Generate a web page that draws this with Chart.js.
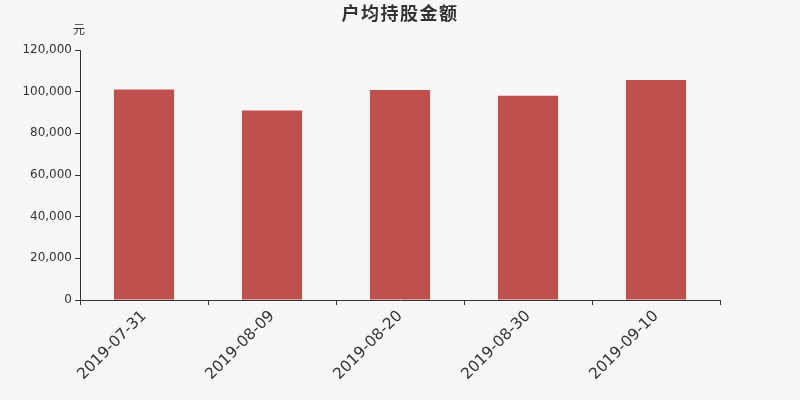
<!DOCTYPE html>
<html>
<head>
<meta charset="utf-8">
<script src="https://cdn.jsdelivr.net/npm/chart.js@4"></script>
<style>
  body { margin: 0; background: #f7f7f7; }
  #wrap { width: 800px; height: 400px; }
</style>
</head>
<body>
<div id="wrap"><canvas id="avgHoldingChart" width="800" height="400"></canvas></div>
<script>
const dates = ['2019-07-31', '2019-08-09', '2019-08-20', '2019-08-30', '2019-09-10'];
const amounts = [101100, 91000, 100800, 98000, 105600];
const yTicks = [0, 20000, 40000, 60000, 80000, 100000, 120000];

const titleText = '户均持股金额';
const unitText = '元';

document.addEventListener('DOMContentLoaded', function () {
  const ctx = document.getElementById('avgHoldingChart').getContext('2d');

  // title and unit label drawn by hand so the plot area stays where it is
  const headerPlugin = {
    id: 'header',
    afterDraw(chart) {
      const c = chart.ctx;
      c.save();
      c.fillStyle = '#333';
      c.textAlign = 'center';
      c.textBaseline = 'middle';
      c.font = 'bold 18px "Noto Sans CJK SC", sans-serif';
      c.letterSpacing = '1.5px';
      c.fillText(titleText, 400, 13);
      c.letterSpacing = '0px';
      c.font = '12px "Noto Sans CJK SC", sans-serif';
      c.fillText(unitText, 79, 29);
      c.restore();
    }
  };

  new Chart(ctx, {
    type: 'bar',
    data: {
      labels: dates,
      datasets: [{
        data: amounts,
        backgroundColor: '#c0504d',
        borderWidth: 0,
        barPercentage: 0.47,
        categoryPercentage: 1
      }]
    },
    options: {
      responsive: false,
      animation: false,
      devicePixelRatio: 1,
      layout: { padding: { top: 50, right: 80, left: 0, bottom: 0 } },
      plugins: {
        legend: { display: false },
        title: { display: false },
        tooltip: { enabled: false }
      },
      scales: {
        x: {
          afterFit(scale) { scale.height = 100; },
          grid: {
            offset: true,
            drawOnChartArea: false,
            drawTicks: true,
            tickLength: 5,
            color: '#333'
          },
          border: { display: true, color: '#333', width: 1 },
          ticks: {
            autoSkip: false,
            maxRotation: 45,
            minRotation: 45,
            padding: 2,
            color: '#333',
            font: { family: 'DejaVu Sans', size: 15.5 }
          }
        },
        y: {
          min: 0,
          max: 120000,
          afterFit(scale) { scale.width = 80; },
          afterBuildTicks(scale) { scale.ticks = yTicks.map(v => ({ value: v })); },
          grid: {
            drawOnChartArea: false,
            drawTicks: true,
            tickLength: 5,
            color: '#333'
          },
          border: { display: true, color: '#333', width: 1 },
          ticks: {
            padding: 3,
            color: '#333',
            font: { family: 'DejaVu Sans', size: 12 },
            callback: v => v.toLocaleString('en-US')
          }
        }
      }
    },
    plugins: [headerPlugin]
  });
});
</script>
</body>
</html>
